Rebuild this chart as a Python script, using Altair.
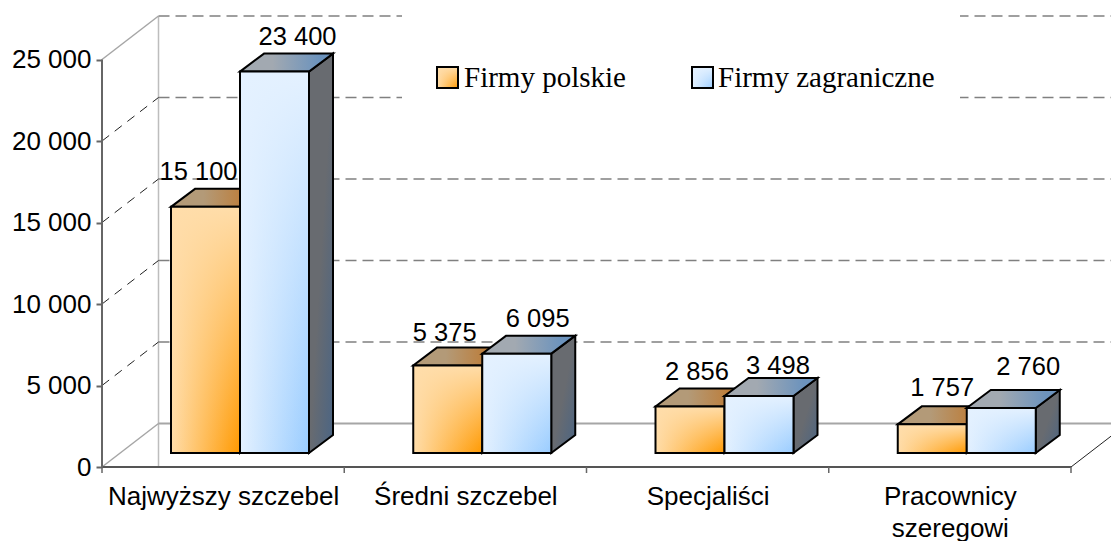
import json
import altair as alt
import pandas as pd

# ---- values ----
CATEGORIES = ["Najwyższy szczebel", "Średni szczebel", "Specjaliści", ["Pracownicy", "szeregowi"]]
POLSKIE = [15100, 5375, 2856, 1757]
ZAGRANICZNE = [23400, 6095, 3498, 2760]
Y_TICKS = [0, 5000, 10000, 15000, 20000, 25000]
LEGEND = ["Firmy polskie", "Firmy zagraniczne"]

# label nudges in pixels (layout only)
LABEL_DX_POL = [-7, -3, 7, 10]
LABEL_DY_POL = [-17, -14, -16, -18]
LABEL_DX_ZAG = [23, 21, 19, 27]
LABEL_DY_ZAG = [-17, -17, -12, -23]

# ---- geometry ----
PW, PH = 1009, 452
PX_PER_CAT = 242.25
PX_PER_UNIT = 0.0163
XMAX = PW / PX_PER_CAT
YMAX = PH / PX_PER_UNIT
LEFT, TOP = 102, 15


def ux(px):
    return px / PX_PER_CAT


def uy(px):
    return px / PX_PER_UNIT


def page_x(px):
    return (px - LEFT) / PX_PER_CAT


def page_y(py):
    return (TOP + PH - py) / PX_PER_UNIT


WALL_DX, WALL_DY = ux(56.5), uy(43.5)
BAR_SHIFT_X, BAR_SHIFT_Y = ux(17), uy(14)
BAR_DX, BAR_DY = ux(24), uy(18)
BAR_W = ux(69)
BAR_GAP = ux(52)

quote = json.dumps(CATEGORIES, ensure_ascii=False)
x_axis = alt.Axis(
    values=[0.5, 1.5, 2.5, 3.5], ticks=False, domain=False, grid=False,
    labelExpr=f"{quote}[floor(datum.value)]",
    labelFont="Liberation Sans", labelFontSize=26, labelColor="black",
    labelLineHeight=32, labelPadding=29, labelOverlap=False, labelFlush=False,
    labelLimit=500, labelAngle=0, labelBaseline="middle", title=None,
)
y_axis = alt.Axis(
    values=Y_TICKS, domain=False, grid=False, tickColor="#666666", tickWidth=2,
    tickSize=6, labelPadding=5,
    labelExpr="replace(format(datum.value, ','), /,/g, ' ')",
    labelFont="Liberation Sans", labelFontSize=26, labelColor="black",
    labelOverlap=False, labelFlush=False, title=None,
)
x_scale = alt.Scale(domain=[0, XMAX], nice=False, zero=False)
y_scale = alt.Scale(domain=[0, YMAX], nice=False, zero=False)
X = lambda f="x": alt.X(f"{f}:Q", scale=x_scale, axis=x_axis)
Y = lambda f="y": alt.Y(f"{f}:Q", scale=y_scale, axis=y_axis, stack=None)
X2 = alt.X2("x2:Q")
Y2 = alt.Y2("y2:Q")


def rules(rows, color, width=1.0, dash=None):
    kw = {"color": color, "strokeWidth": width}
    if dash:
        kw["strokeDash"] = dash
    df = pd.DataFrame(rows, columns=["x", "y", "x2", "y2"])
    return alt.Chart(df).mark_rule(**kw).encode(x=X(), y=Y(), x2=X2, y2=Y2)


def grad(stops, x1=0, y1=0, x2=1, y2=0):
    return alt.Gradient(
        gradient="linear",
        stops=[alt.GradientStop(color=c, offset=o) for o, c in stops],
        x1=x1, y1=y1, x2=x2, y2=y2,
    )


layers = []

# walls and floor
layers.append(rules([[WALL_DX, 0, WALL_DX, 25000 + WALL_DY]], "#bdbdbd", 1.5))
layers.append(rules([[WALL_DX, v + WALL_DY, XMAX, v + WALL_DY] for v in Y_TICKS[1:]],
                    "#808080", 1.5, [11, 6]))
layers.append(rules([[WALL_DX, WALL_DY, XMAX, WALL_DY]], "#a6a6a6", 2))
layers.append(rules([[0, v, WALL_DX, v + WALL_DY] for v in Y_TICKS[1:-1]], "#222222", 1, [9, 7]))
layers.append(rules([[0, 0, WALL_DX, WALL_DY], [0, 25000, WALL_DX, 25000 + WALL_DY]], "#a6a6a6", 1.5))
layers.append(rules([[4, 0, 4 + WALL_DX, WALL_DY]], "#222222", 1))

# legend backdrop
layers.append(
    alt.Chart(pd.DataFrame([[page_x(402), page_y(12), page_x(960), page_y(100)]],
                           columns=["x", "y", "x2", "y2"]))
    .mark_rect(fill="white", stroke=None)
    .encode(x=X(), y=Y(), x2=X2, y2=Y2)
)

# front axis lines and category ticks
layers.append(rules([[0, 0, 4, 0]], "#555555", 2))
layers.append(rules([[0, 0, 0, 25000]], "#666666", 2))
layers.append(rules([[i, 0, i, -uy(6)] for i in range(5)], "#666666", 1.5))

SERIES = [
    dict(values=POLSKIE, slot=0, light="#FFDDAA", strong="#FF9900",
         top=("#B39A78", "#BE7A33"), side=("#6B6560", "#5E5040")),
    dict(values=ZAGRANICZNE, slot=1, light="#E4F1FF", strong="#99CCFF",
         top=("#A2A9B1", "#6C93BD"), side=("#686B70", "#4B6584")),
]
transparent = {
    "#FFDDAA": "rgba(255,221,170,0)",
    "#E4F1FF": "rgba(228,241,255,0)",
}

for s in SERIES:
    front = []
    for i, v in enumerate(s["values"]):
        xl = i + BAR_GAP + BAR_SHIFT_X + s["slot"] * BAR_W
        xr = xl + BAR_W
        y0 = BAR_SHIFT_Y
        yt = y0 + v
        front.append(dict(x=xl, x2=xr, y=y0, y2=yt))
        top_face = [dict(y=yt, x=xl, x2=xr),
                    dict(y=yt + BAR_DY, x=xl + BAR_DX, x2=xr + BAR_DX)]
        side_face = [dict(x=xr, y=y0, y2=yt),
                     dict(x=xr + BAR_DX, y=y0 + BAR_DY, y2=yt + BAR_DY)]
        layers.append(
            alt.Chart(pd.DataFrame(side_face)).mark_area(
                orient="vertical", stroke="black", strokeWidth=2, strokeJoin="miter",
                fill=grad([(0, s["side"][0]), (0.5, s["side"][0]), (1, s["side"][1])], 0, 0, 1, 1),
            ).encode(x=X(), y=Y(), y2=Y2)
        )
        layers.append(
            alt.Chart(pd.DataFrame(top_face)).mark_area(
                orient="horizontal", stroke="black", strokeWidth=2, strokeJoin="miter",
                fill=grad([(0, s["top"][0]), (0.35, s["top"][0]), (0.85, s["top"][1]), (1, s["top"][1])]),
            ).encode(x=X(), x2=X2, y=Y())
        )
    layers.append(
        alt.Chart(pd.DataFrame(front)).mark_rect(
            fill=grad([(0, s["light"]), (1, s["strong"])]),
        ).encode(x=X(), x2=X2, y=Y(), y2=Y2)
    )
    layers.append(
        alt.Chart(pd.DataFrame(front)).mark_rect(
            fill=grad([(0, s["light"]), (1, transparent[s["light"]])], 0, 0, 0, 1),
            stroke="black", strokeWidth=2,
        ).encode(x=X(), x2=X2, y=Y(), y2=Y2)
    )

# data labels
label_rows = []
for s, dxs, dys in [(SERIES[0], LABEL_DX_POL, LABEL_DY_POL), (SERIES[1], LABEL_DX_ZAG, LABEL_DY_ZAG)]:
    for i, v in enumerate(s["values"]):
        cx = i + BAR_GAP + BAR_SHIFT_X + s["slot"] * BAR_W + BAR_W / 2
        label_rows.append(dict(
            x=cx + ux(dxs[i]),
            y=BAR_SHIFT_Y + BAR_DY + v - uy(dys[i]),
            t=f"{v:,}".replace(",", " "),
        ))
layers.append(
    alt.Chart(pd.DataFrame(label_rows)).mark_text(
        font="Liberation Sans", fontSize=25.5, color="black", align="center", baseline="middle",
    ).encode(x=X(), y=Y(), text="t:N")
)

# legend
for name, s, sx0, tx in [(LEGEND[0], SERIES[0], 437, 464), (LEGEND[1], SERIES[1], 692, 718)]:
    sw = pd.DataFrame([[page_x(sx0), page_y(67), page_x(sx0 + 21), page_y(88)]],
                      columns=["x", "y", "x2", "y2"])
    layers.append(alt.Chart(sw).mark_rect(fill=grad([(0, s["light"]), (1, s["strong"])]))
                  .encode(x=X(), x2=X2, y=Y(), y2=Y2))
    layers.append(alt.Chart(sw).mark_rect(
        fill=grad([(0, s["light"]), (1, transparent[s["light"]])], 0, 0, 0, 1),
        stroke="black", strokeWidth=2).encode(x=X(), x2=X2, y=Y(), y2=Y2))
    layers.append(
        alt.Chart(pd.DataFrame([dict(x=page_x(tx), y=page_y(78), t=name)])).mark_text(
            font="Liberation Serif", fontSize=29, color="black", align="left", baseline="middle",
        ).encode(x=X(), y=Y(), text="t:N")
    )

chart = (
    alt.layer(*layers)
    .properties(
        width=PW, height=PH,
        padding={"left": 94, "top": 7, "right": 0, "bottom": 74},
        autosize=alt.AutoSizeParams(type="none"),
        background="white",
    )
    .configure_view(stroke=None)
)

chart.save("out.html", embed_options={"renderer": "svg", "actions": False})
